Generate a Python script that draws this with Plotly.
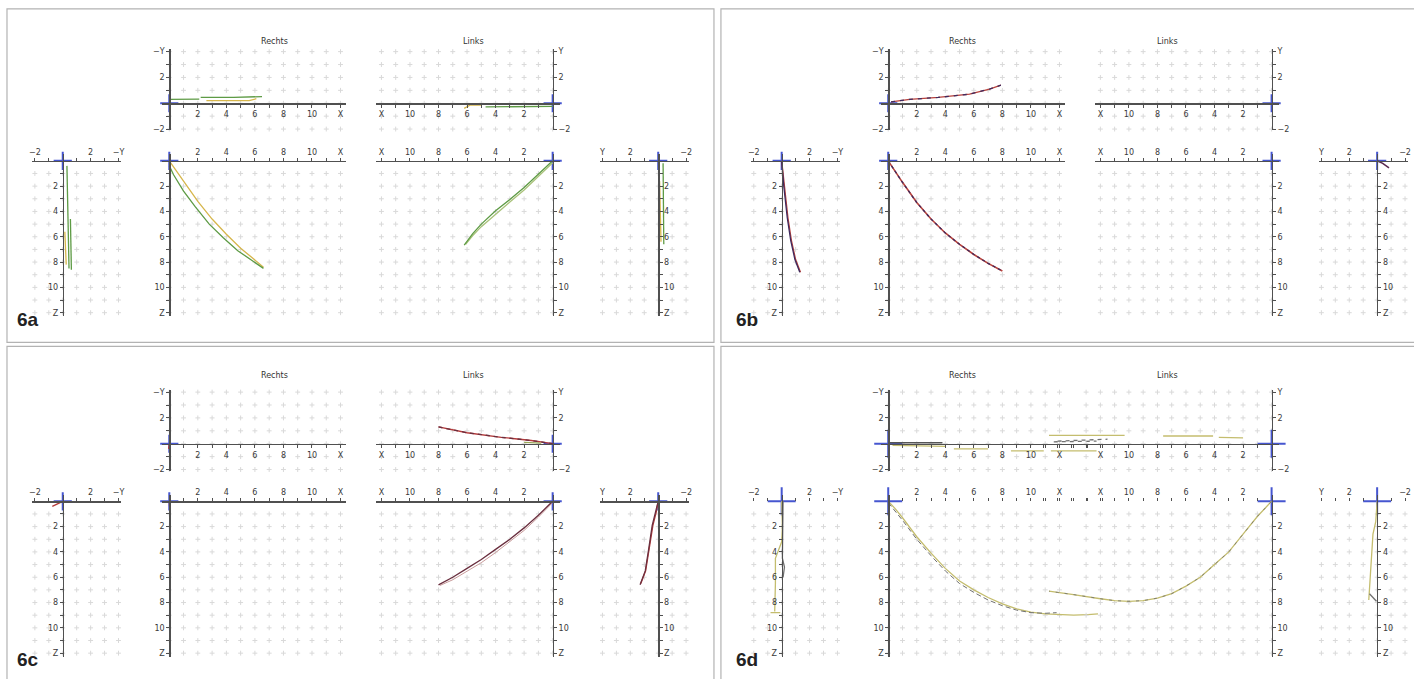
import numpy as np
import plotly.graph_objects as go

W, H = 1414, 679

# ------------------------------------------------------------------
# DATA  (units of the plotted axes)
# ------------------------------------------------------------------
# ---- 6a ----
A_TOPR_G1_X = [0.0, 1.0, 2.1];            A_TOPR_G1_Y = [0.3, 0.3, 0.32]
A_TOPR_G2_X = [2.2, 4.5, 6.5];            A_TOPR_G2_Y = [0.45, 0.45, 0.52]
A_TOPR_Y_X = [2.6, 4.0, 5.6, 6.1];        A_TOPR_Y_Y = [0.2, 0.2, 0.2, 0.35]
A_TOPL_G_X = [0.0, 2.5, 4.7];             A_TOPL_G_Y = [-0.25, -0.25, -0.28]
A_TOPL_Y_X = [6.2, 5.8, 5.0];             A_TOPL_Y_Y = [-0.4, -0.15, -0.15]
A_MAINR_Y_X = [0, 0.5, 1.2, 2.0, 3.0, 4.0, 5.0, 6.0, 6.6]
A_MAINR_Y_Z = [0, 0.8, 2.0, 3.2, 4.6, 5.8, 6.9, 7.8, 8.4]
A_MAINR_G_X = [0, 0.3, 1.0, 1.8, 2.8, 3.8, 4.8, 5.8, 6.6]
A_MAINR_G_Z = [0.4, 1.1, 2.4, 3.6, 5.0, 6.1, 7.1, 7.9, 8.5]
A_SIDEL_G1_X = [0.3, 0.35, 0.4, 0.45];    A_SIDEL_G1_Z = [0.4, 3.0, 6.0, 8.5]
A_SIDEL_G2_X = [0.55, 0.6, 0.62];         A_SIDEL_G2_Z = [4.6, 6.5, 8.6]
A_SIDEL_Y_X = [0.15, 0.2, 0.25];          A_SIDEL_Y_Z = [5.6, 7.0, 8.2]
A_MAINL_G_X = [0, 1, 2, 3, 4, 5, 5.6, 6.2]
A_MAINL_G_Z = [0, 1.05, 2.1, 3.05, 3.95, 5.0, 5.75, 6.67]
A_MAINL_Y_X = [0, 1, 2, 3, 4, 5, 5.6, 6.1]
A_MAINL_Y_Z = [0.15, 1.25, 2.3, 3.25, 4.2, 5.2, 5.9, 6.6]
A_SIDER_G_X = [-0.35, -0.35, -0.4];       A_SIDER_G_Z = [0.2, 3.0, 6.6]
A_SIDER_Y_X = [-0.1, -0.15, -0.2];        A_SIDER_Y_Z = [1.6, 4.0, 6.4]

# ---- 6b ----
B_TOPR_X = [0.2, 1.5, 3.5, 5.7, 7.1, 7.9]
B_TOPR_Y = [0.1, 0.3, 0.45, 0.7, 1.1, 1.4]
B_MAINR_X = [0, 0.5, 1.0, 2.0, 3.0, 4.0, 5.0, 6.0, 7.0, 8.0]
B_MAINR_Z = [0, 0.8, 1.7, 3.3, 4.6, 5.7, 6.6, 7.4, 8.1, 8.7]
B_SIDEL_R_X = [0, 0.1, 0.2, 0.3, 0.45, 0.7, 1.0, 1.35]
B_SIDEL_R_Z = [0, 1, 2, 3, 4.5, 6.3, 7.8, 8.8]
B_SIDEL_D_X = [0, 0.05, 0.15, 0.25, 0.4, 0.65, 0.95, 1.3]
B_SIDEL_D_Z = [0, 1, 2, 3, 4.5, 6.3, 7.8, 8.8]
B_SIDER_X = [0, -0.4, -0.85];             B_SIDER_Z = [0, 0.2, 0.55]

# ---- 6c ----
C_TOPR_X = [0, -0.05];                    C_TOPR_Y = [0, -0.4]
C_MAINR_X = [0, 0.02];                    C_MAINR_Z = [0, 0.4]
C_SIDEL_X = [0, -0.3, -0.75];             C_SIDEL_Z = [0, 0.15, 0.4]
C_TOPL_R_X = [8.0, 6.0, 3.6, 1.5, 0];     C_TOPL_R_Y = [1.3, 0.85, 0.5, 0.25, 0]
C_TOPL_G_X = [2.0, 0.8];                  C_TOPL_G_Y = [0.1, 0.05]
C_MAINL_R_X = [0, 1, 2, 3, 4, 5, 6, 7, 8]
C_MAINL_R_Z = [0, 1.1, 2.1, 3.0, 3.8, 4.6, 5.3, 6.0, 6.6]
C_MAINL_D_X = [0, 1, 2, 3, 4, 5, 6, 7, 7.9]
C_MAINL_D_Z = [0.1, 1.25, 2.3, 3.2, 4.05, 4.85, 5.55, 6.2, 6.65]
C_SIDER_R_X = [0, 0.2, 0.43, 0.7, 0.93, 1.3]
C_SIDER_R_Z = [0, 0.9, 1.9, 3.9, 5.5, 6.6]
C_SIDER_D_X = [0, 0.15, 0.38, 0.65, 0.9, 1.25]
C_SIDER_D_Z = [0, 0.9, 1.9, 3.9, 5.5, 6.5]

# ---- 6d ----
D_TOPR_D_X = [0.1, 3.8];                  D_TOPR_D_Y = [0.08, 0.08]
D_TOPR_Y1_X = [0.3, 4.0];                 D_TOPR_Y1_Y = [-0.12, -0.2]
D_TOPR_Y2_X = [4.6, 7.0];                 D_TOPR_Y2_Y = [-0.4, -0.4]
D_TOPR_Y3_X = [8.6, 10.9];                D_TOPR_Y3_Y = [-0.55, -0.55]
D_TOPR_Y4_X = [11.4, 14.6];               D_TOPR_Y4_Y = [-0.55, -0.55]
D_TOPR_G_X = [11.6, 14.6];                D_TOPR_G_Y = [0.15, 0.2]
D_TOPL_Y1_X = [15.6, 10.3];               D_TOPL_Y1_Y = [0.65, 0.65]
D_TOPL_Y2_X = [7.6, 4.1];                 D_TOPL_Y2_Y = [0.6, 0.6]
D_TOPL_Y3_X = [3.7, 2.0];                 D_TOPL_Y3_Y = [0.5, 0.45]
D_TOPL_G_X = [15.0, 11.5];                D_TOPL_G_Y = [0.2, 0.35]
D_MAINR_Y_X = [0, 0.5, 1.0, 2.0, 3.0, 4.0, 5.0, 6.0, 7.0, 8.0, 9.0, 10.0, 11.0, 12.0, 13.0, 14.0, 14.7]
D_MAINR_Y_Z = [0, 0.6, 1.3, 2.8, 4.1, 5.3, 6.3, 7.0, 7.6, 8.1, 8.5, 8.75, 8.9, 8.95, 9.0, 8.95, 8.9]
D_MAINR_G_X = [0, 0.5, 1.0, 2.0, 3.0, 4.0, 5.0, 6.0, 7.0, 8.0, 9.0, 10.0, 11.0, 11.8]
D_MAINR_G_Z = [0.1, 0.8, 1.5, 3.0, 4.3, 5.5, 6.5, 7.2, 7.8, 8.25, 8.6, 8.8, 8.85, 8.8]
D_MAINL_X = [0, 1, 2, 3, 4, 5, 6, 7, 8, 9, 10, 11, 12, 13, 14, 15, 15.6]
D_MAINL_Z = [0, 1.2, 2.6, 4.0, 5.0, 6.0, 6.7, 7.3, 7.65, 7.85, 7.9, 7.85, 7.7, 7.5, 7.35, 7.2, 7.1]
D_SIDEL_Y_X = [0, 0.05, 0, -0.45, -0.45, -0.5];  D_SIDEL_Y_Z = [0, 2.0, 3.2, 4.5, 6.5, 8.7]
D_SIDEL_E_X = [-0.8, -0.1];               D_SIDEL_E_Z = [8.8, 8.8]
D_SIDEL_G_X = [0.1, 0.1, 0.05, 0.2, 0.1]; D_SIDEL_G_Z = [0, 3.0, 4.5, 5.2, 6.0]
D_SIDER_Y_X = [0, 0.1, 0.3, 0.4, 0.5, 0.6];  D_SIDER_Y_Z = [0, 1.6, 2.6, 4.5, 6.5, 7.8]
D_SIDER_G_X = [0.55, 0.3, 0.05];          D_SIDER_G_Z = [7.3, 7.6, 7.9]

# tick labels
X_TICKS = [2, 4, 6, 8, 10, 12];  X_TEXT = ['2', '4', '6', '8', '10', 'X']
Z_TICKS = [2, 4, 6, 8, 10, 12];  Z_TEXT = ['2', '4', '6', '8', '10', 'Z']
TOP_Y_TICKS = [-2, 2, 4]
TOPR_Y_TEXT = ['−2', '2', '−Y'];  TOPL_Y_TEXT = ['−2', '2', 'Y']
SIDE_TICKS = [-2, 2, 4]
SIDEL_TEXT = ['−2', '2', '−Y'];   SIDER_TEXT = ['−2', '2', 'Y']

PANEL_LABELS = ['6a', '6b', '6c', '6d']

# ------------------------------------------------------------------
# LAYOUT GEOMETRY (pixels of the base panel)
# ------------------------------------------------------------------
KINDS = {
    'topR': dict(ox=167, oy=102, sx=14.33, sy=13.0, xdir=1, ydir=-1, xr=(-0.5, 12.4), yr=(-2.1, 4.2),
                 xside='bottom', yside='left', xt=(X_TICKS, X_TEXT), yt=(TOP_Y_TICKS, TOPR_Y_TEXT),
                 gx=(-1, 12), gy=(-2, 4)),
    'topL': dict(ox=552, oy=102, sx=14.33, sy=13.0, xdir=-1, ydir=-1, xr=(-0.5, 12.4), yr=(-2.1, 4.2),
                 xside='bottom', yside='right', xt=(X_TICKS, X_TEXT), yt=(TOP_Y_TICKS, TOPL_Y_TEXT),
                 gx=(-1, 13), gy=(-2, 4)),
    'mainR': dict(ox=167, oy=160, sx=14.33, sy=12.75, xdir=1, ydir=1, xr=(-0.5, 12.4), yr=(-0.5, 12.3),
                  xside='top', yside='left', xt=(X_TICKS, X_TEXT), yt=(Z_TICKS, Z_TEXT),
                  gx=(-1, 12), gy=(1, 12)),
    'mainL': dict(ox=552, oy=160, sx=14.33, sy=12.75, xdir=-1, ydir=1, xr=(-0.5, 12.4), yr=(-0.5, 12.3),
                  xside='top', yside='right', xt=(X_TICKS, X_TEXT), yt=(Z_TICKS, Z_TEXT),
                  gx=(-1, 13), gy=(1, 12)),
    'sideL': dict(ox=60, oy=160, sx=14.0, sy=12.75, xdir=1, ydir=1, xr=(-2.2, 4.2), yr=(-0.5, 12.3),
                  xside='top', yside='left', xt=(SIDE_TICKS, SIDEL_TEXT), yt=(Z_TICKS, Z_TEXT),
                  gx=(-2, 4), gy=(1, 12)),
    'sideR': dict(ox=658, oy=160, sx=14.0, sy=12.75, xdir=-1, ydir=1, xr=(-2.2, 4.2), yr=(-0.5, 12.3),
                  xside='top', yside='right', xt=(SIDE_TICKS, SIDER_TEXT), yt=(Z_TICKS, Z_TEXT),
                  gx=(-2, 4), gy=(1, 12)),
}
PANEL_OFFSETS = [(0, 0), (722, 0), (0, 343), (722, 343)]

AXIS_COLOR = '#505050'
TICK_FONT = dict(family='DejaVu Sans', size=8, color='#3a3a3a')
GRID_COLOR = '#d9d9d9'
CROSS_COLOR = '#4656d0'

fig = go.Figure()
layout_axes = {}
counter = [0]


def make_sub(kind, dx, dy, xr=None, xline=True, cross=13):
    k = KINDS[kind]
    counter[0] += 1
    i = counter[0]
    lo, hi = xr if xr else k['xr']
    ox, oy = k['ox'] + dx, k['oy'] + dy
    # x
    pa, pb = ox + k['xdir'] * k['sx'] * lo, ox + k['xdir'] * k['sx'] * hi
    if pa <= pb:
        xdom, xrange_ = [pa / W, pb / W], [lo, hi]
    else:
        xdom, xrange_ = [pb / W, pa / W], [hi, lo]
    # y
    ylo, yhi = k['yr']
    qa, qb = oy + k['ydir'] * k['sy'] * ylo, oy + k['ydir'] * k['sy'] * yhi
    if qa <= qb:
        ydom, yrange_ = [1 - qb / H, 1 - qa / H], [yhi, ylo]
    else:
        ydom, yrange_ = [1 - qa / H, 1 - qb / H], [ylo, yhi]
    xmin_t = [v for v in range(int(np.ceil(lo)), int(np.floor(hi)) + 1) if v not in k['xt'][0] and v != 0]
    ymin_t = [v for v in range(int(np.ceil(ylo)), int(np.floor(yhi)) + 1) if v not in k['yt'][0] and v != 0]
    xa = dict(domain=xdom, range=xrange_, anchor='free', position=1 - oy / H, side=k['xside'],
              showline=xline, linecolor=AXIS_COLOR, linewidth=1.3, showgrid=False, zeroline=False,
              tickmode='array', tickvals=k['xt'][0], ticktext=k['xt'][1], ticks='outside',
              ticklen=3, tickcolor=AXIS_COLOR, tickfont=TICK_FONT, fixedrange=True,
              minor=dict(tickmode='array', tickvals=xmin_t, ticks='outside', ticklen=3,
                         tickcolor=AXIS_COLOR, showgrid=False))
    ya = dict(domain=ydom, range=yrange_, anchor='free', position=ox / W, side=k['yside'],
              showline=True, linecolor=AXIS_COLOR, linewidth=1.3, showgrid=False, zeroline=False,
              tickmode='array', tickvals=k['yt'][0], ticktext=k['yt'][1], ticks='outside',
              ticklen=3, tickcolor=AXIS_COLOR, tickfont=TICK_FONT, fixedrange=True,
              minor=dict(tickmode='array', tickvals=ymin_t, ticks='outside', ticklen=3,
                         tickcolor=AXIS_COLOR, showgrid=False))
    layout_axes['xaxis' if i == 1 else f'xaxis{i}'] = xa
    layout_axes['yaxis' if i == 1 else f'yaxis{i}'] = ya
    xref = 'x' if i == 1 else f'x{i}'
    yref = 'y' if i == 1 else f'y{i}'
    # grid crosses (decoration)
    gxs, gys = np.meshgrid(np.arange(k['gx'][0], k['gx'][1] + 1), np.arange(k['gy'][0], k['gy'][1] + 1))
    fig.add_trace(go.Scatter(x=gxs.ravel(), y=gys.ravel(), mode='markers', xaxis=xref, yaxis=yref,
                             marker=dict(symbol='cross-thin', size=3.5, line=dict(color=GRID_COLOR, width=1)),
                             cliponaxis=False, hoverinfo='skip'))
    # origin cross
    fig.add_trace(go.Scatter(x=[0], y=[0], mode='markers', xaxis=xref, yaxis=yref,
                             marker=dict(symbol='cross-thin', size=cross, line=dict(color=CROSS_COLOR, width=2)),
                             cliponaxis=False, hoverinfo='skip'))
    return xref, yref


def curve(sub, xs, ys, color, width=1.3, dash=None):
    fig.add_trace(go.Scatter(x=xs, y=ys, mode='lines', xaxis=sub[0], yaxis=sub[1],
                             line=dict(color=color, width=width, dash=dash), hoverinfo='skip'))


# ---------------- panel 6a ----------------
dx, dy = PANEL_OFFSETS[0]
GREEN, YELLOW = '#5e9b45', '#d6b64c'
s = make_sub('topR', dx, dy)
curve(s, A_TOPR_G1_X, A_TOPR_G1_Y, GREEN); curve(s, A_TOPR_G2_X, A_TOPR_G2_Y, GREEN)
curve(s, A_TOPR_Y_X, A_TOPR_Y_Y, YELLOW)
s = make_sub('topL', dx, dy)
curve(s, A_TOPL_G_X, A_TOPL_G_Y, GREEN); curve(s, A_TOPL_Y_X, A_TOPL_Y_Y, YELLOW)
s = make_sub('mainR', dx, dy)
curve(s, A_MAINR_Y_X, A_MAINR_Y_Z, YELLOW); curve(s, A_MAINR_G_X, A_MAINR_G_Z, GREEN)
s = make_sub('mainL', dx, dy)
curve(s, A_MAINL_Y_X, A_MAINL_Y_Z, '#a9c27a'); curve(s, A_MAINL_G_X, A_MAINL_G_Z, GREEN)
s = make_sub('sideL', dx, dy)
curve(s, A_SIDEL_G1_X, A_SIDEL_G1_Z, GREEN); curve(s, A_SIDEL_G2_X, A_SIDEL_G2_Z, GREEN)
curve(s, A_SIDEL_Y_X, A_SIDEL_Y_Z, YELLOW)
s = make_sub('sideR', dx, dy)
curve(s, A_SIDER_G_X, A_SIDER_G_Z, GREEN); curve(s, A_SIDER_Y_X, A_SIDER_Y_Z, YELLOW)

# ---------------- panel 6b ----------------
dx, dy = PANEL_OFFSETS[1]
RED, DARK = '#b8423c', '#3f2a5e'
s = make_sub('topR', dx, dy)
curve(s, B_TOPR_X, B_TOPR_Y, RED); curve(s, B_TOPR_X, B_TOPR_Y, DARK, dash='4px,5px')
s = make_sub('topL', dx, dy)
s = make_sub('mainR', dx, dy)
curve(s, B_MAINR_X, B_MAINR_Z, RED, width=1.6); curve(s, B_MAINR_X, B_MAINR_Z, DARK, width=1.3, dash='3px,3px')
s = make_sub('mainL', dx, dy)
s = make_sub('sideL', dx, dy)
curve(s, B_SIDEL_R_X, B_SIDEL_R_Z, RED); curve(s, B_SIDEL_D_X, B_SIDEL_D_Z, DARK)
s = make_sub('sideR', dx, dy)
curve(s, B_SIDER_X, B_SIDER_Z, '#5a2a50', width=1.6)

# ---------------- panel 6c ----------------
dx, dy = PANEL_OFFSETS[2]
RED_C, DARK_C = '#b43a3a', '#6a2f3f'
s = make_sub('topR', dx, dy)
curve(s, C_TOPR_X, C_TOPR_Y, RED_C)
s = make_sub('topL', dx, dy)
curve(s, C_TOPL_R_X, C_TOPL_R_Y, RED_C); curve(s, C_TOPL_R_X, C_TOPL_R_Y, DARK_C, dash='4px,4px')
curve(s, C_TOPL_G_X, C_TOPL_G_Y, '#9aa85a')
s = make_sub('mainR', dx, dy)
curve(s, C_MAINR_X, C_MAINR_Z, RED_C)
s = make_sub('mainL', dx, dy)
curve(s, C_MAINL_D_X, C_MAINL_D_Z, '#c89a9a', width=1.0); curve(s, C_MAINL_R_X, C_MAINL_R_Z, DARK_C)
s = make_sub('sideL', dx, dy)
curve(s, C_SIDEL_X, C_SIDEL_Z, RED_C)
s = make_sub('sideR', dx, dy)
curve(s, C_SIDER_D_X, C_SIDER_D_Z, RED_C); curve(s, C_SIDER_R_X, C_SIDER_R_Z, DARK_C)

# ---------------- panel 6d ----------------
dx, dy = PANEL_OFFSETS[3]
OLIVE, GRAY = '#c4bd6e', '#707070'
s = make_sub('topR', dx, dy, xr=(-0.5, 15.0), cross=20)
curve(s, D_TOPR_D_X, D_TOPR_D_Y, '#555555', width=1.6)
curve(s, D_TOPR_Y1_X, D_TOPR_Y1_Y, OLIVE); curve(s, D_TOPR_Y2_X, D_TOPR_Y2_Y, OLIVE)
curve(s, D_TOPR_Y3_X, D_TOPR_Y3_Y, OLIVE); curve(s, D_TOPR_Y4_X, D_TOPR_Y4_Y, OLIVE)
curve(s, D_TOPR_G_X, D_TOPR_G_Y, GRAY, dash='4px,4px')
s = make_sub('topL', dx, dy, xr=(-0.5, 16.0), cross=20)
curve(s, D_TOPL_Y1_X, D_TOPL_Y1_Y, OLIVE); curve(s, D_TOPL_Y2_X, D_TOPL_Y2_Y, OLIVE)
curve(s, D_TOPL_Y3_X, D_TOPL_Y3_Y, OLIVE); curve(s, D_TOPL_G_X, D_TOPL_G_Y, GRAY, dash='4px,4px')
s = make_sub('mainR', dx, dy, xr=(-0.5, 15.0), xline=False, cross=20)
curve(s, D_MAINR_Y_X, D_MAINR_Y_Z, OLIVE); curve(s, D_MAINR_G_X, D_MAINR_G_Z, GRAY, width=1.0, dash='5px,3px')
s = make_sub('mainL', dx, dy, xr=(-0.5, 16.0), xline=False, cross=20)
curve(s, D_MAINL_X, D_MAINL_Z, OLIVE); curve(s, D_MAINL_X, D_MAINL_Z, GRAY, width=0.8, dash='3px,6px')
s = make_sub('sideL', dx, dy, xline=False, cross=20)
curve(s, D_SIDEL_G_X, D_SIDEL_G_Z, GRAY)
curve(s, D_SIDEL_Y_X, D_SIDEL_Y_Z, OLIVE); curve(s, D_SIDEL_E_X, D_SIDEL_E_Z, OLIVE)
s = make_sub('sideR', dx, dy, xline=False, cross=20)
curve(s, D_SIDER_Y_X, D_SIDER_Y_Z, OLIVE); curve(s, D_SIDER_G_X, D_SIDER_G_Z, GRAY)

# ---------------- frames, titles, labels ----------------
shapes = []
annotations = []
FRAMES = [(4, 7, 714, 343), (721, 7, 1420, 343), (4, 347, 714, 690), (721, 347, 1420, 690)]
for (x0, y0, x1, y1) in FRAMES:
    shapes.append(dict(type='rect', xref='paper', yref='paper', x0=x0 / W, x1=x1 / W,
                       y0=1 - y1 / H, y1=1 - y0 / H, line=dict(color='#b3b3b3', width=1.2),
                       fillcolor='rgba(0,0,0,0)', layer='below'))
for (pdx, pdy), lab in zip(PANEL_OFFSETS, PANEL_LABELS):
    annotations.append(dict(text='Rechts', x=(257 + pdx) / W, y=1 - (33 + pdy) / H, xref='paper',
                            yref='paper', showarrow=False, font=dict(family='DejaVu Sans', size=8, color='#333')))
    annotations.append(dict(text='Links', x=(460 + pdx) / W, y=1 - (33 + pdy) / H, xref='paper',
                            yref='paper', showarrow=False, font=dict(family='DejaVu Sans', size=8, color='#333')))
    annotations.append(dict(text='<b>' + lab + '</b>', x=(12 + pdx) / W, y=1 - (332 + pdy) / H,
                            xref='paper', yref='paper', xanchor='left', yanchor='bottom', showarrow=False,
                            font=dict(family='Liberation Sans Narrow, Liberation Sans, Arial', size=19,
                                      color='#222')))

fig.update_layout(width=W, height=H, margin=dict(l=0, r=0, t=0, b=0), paper_bgcolor='white',
                  plot_bgcolor='rgba(0,0,0,0)', showlegend=False, shapes=shapes,
                  annotations=annotations, **layout_axes)
fig.write_html('out.html', config={'displayModeBar': False, 'staticPlot': True},
               post_script="document.body.style.margin='0px';document.body.style.overflow='hidden';")
